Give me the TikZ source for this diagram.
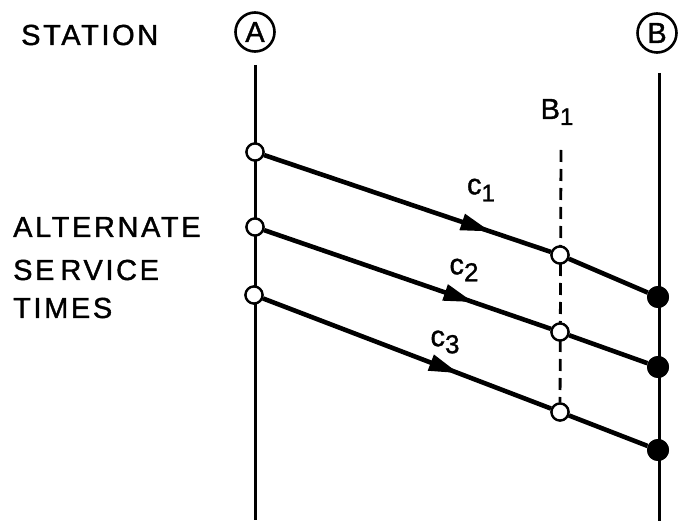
\documentclass[tikz,border=0pt]{standalone}
\usepackage{fontspec}
\setmainfont{Liberation Sans}[LetterSpace=9, FakeBold=1.3]
\usetikzlibrary{arrows.meta,decorations.markings}
\begin{document}
\begin{tikzpicture}[x=1pt,y=-1pt,
  lbl/.style={font=\fontsize{29}{30}\selectfont, inner sep=0pt},
  stn/.style={circle, draw, line width=2.6pt, minimum size=39pt, inner sep=0pt, font=\fontsize{29}{29}\selectfont},
  opendot/.style={circle, draw, fill=white, line width=2.3pt, minimum size=17pt, inner sep=0pt},
  fulldot/.style={circle, fill=black, minimum size=22pt, inner sep=0pt},
  stline/.style={line width=3pt},
  msg/.style={line width=4.6pt},
  dashline/.style={line width=2.8pt, dash pattern=on 12pt off 7pt},
  midarrow/.style={postaction={decorate, decoration={markings, mark=at position #1 with {\arrow{Triangle[length=30pt,width=16pt]}}}}}
]
\useasboundingbox (0,0) rectangle (680,521);
% labels
\node[lbl, anchor=west] (station) at (21,35) {STATION};
\node[lbl, anchor=west] (alt) at (13,227) {ALTERNATE};
\node[lbl, anchor=west] (serv) at (13,270) {SE\hspace{6pt}RVICE};
\node[lbl, anchor=west] (times) at (13,308) {TIMES};
% stations
\node[stn] (A) at (255,32) {A};
\node[stn] (B) at (657,33) {B};
\coordinate (Atop) at (255,65);
\coordinate (Abot) at (255,520);
\coordinate (Btop) at (659,73);
\coordinate (Bbot) at (659,521);
\draw[stline] (Atop) -- (Abot);
\draw[stline] (Btop) -- (Bbot);
% B1
\node[lbl] (B1) at (557,112) {B\raisebox{-6pt}{\fontsize{24}{24}\selectfont 1}};
\coordinate (dtop) at (561,150);
% dots
\node[opendot] (a1) at (255,152) {};
\node[opendot] (a2) at (255,227) {};
\node[opendot] (a3) at (254,295) {};
\node[opendot] (m1) at (560,255) {};
\node[opendot] (m2) at (560,332) {};
\node[opendot] (m3) at (560,412) {};
\node[fulldot] (b1) at (658,297) {};
\node[fulldot] (b2) at (658,367) {};
\node[fulldot] (b3) at (658,450) {};
\draw[dashline] (dtop) -- (m3);
% messages
\draw[msg, midarrow=0.79] (a1) -- (m1);
\draw[msg, midarrow=0.73] (a2) -- (m2);
\draw[msg, midarrow=0.68] (a3) -- (m3);
\draw[msg] (m1) -- (b1);
\draw[msg] (m2) -- (b2);
\draw[msg] (m3) -- (b3);
% redraw dots on top
\foreach \p in {{255,152},{255,227},{254,295},{560,255},{560,332},{560,412}}
  \node[opendot] at (\p) {};
\foreach \p in {{658,297},{658,367},{658,450}}
  \node[fulldot] at (\p) {};
% message labels
\node[lbl] (c1) at (481,190) {c\raisebox{-7pt}{\fontsize{24}{24}\selectfont 1}};
\node[lbl] (c2) at (464,270) {c\raisebox{-7pt}{\fontsize{26}{26}\selectfont 2}};
\node[lbl] (c3) at (445,342) {c\raisebox{-7pt}{\fontsize{26}{26}\selectfont 3}};
\end{tikzpicture}
\end{document}
